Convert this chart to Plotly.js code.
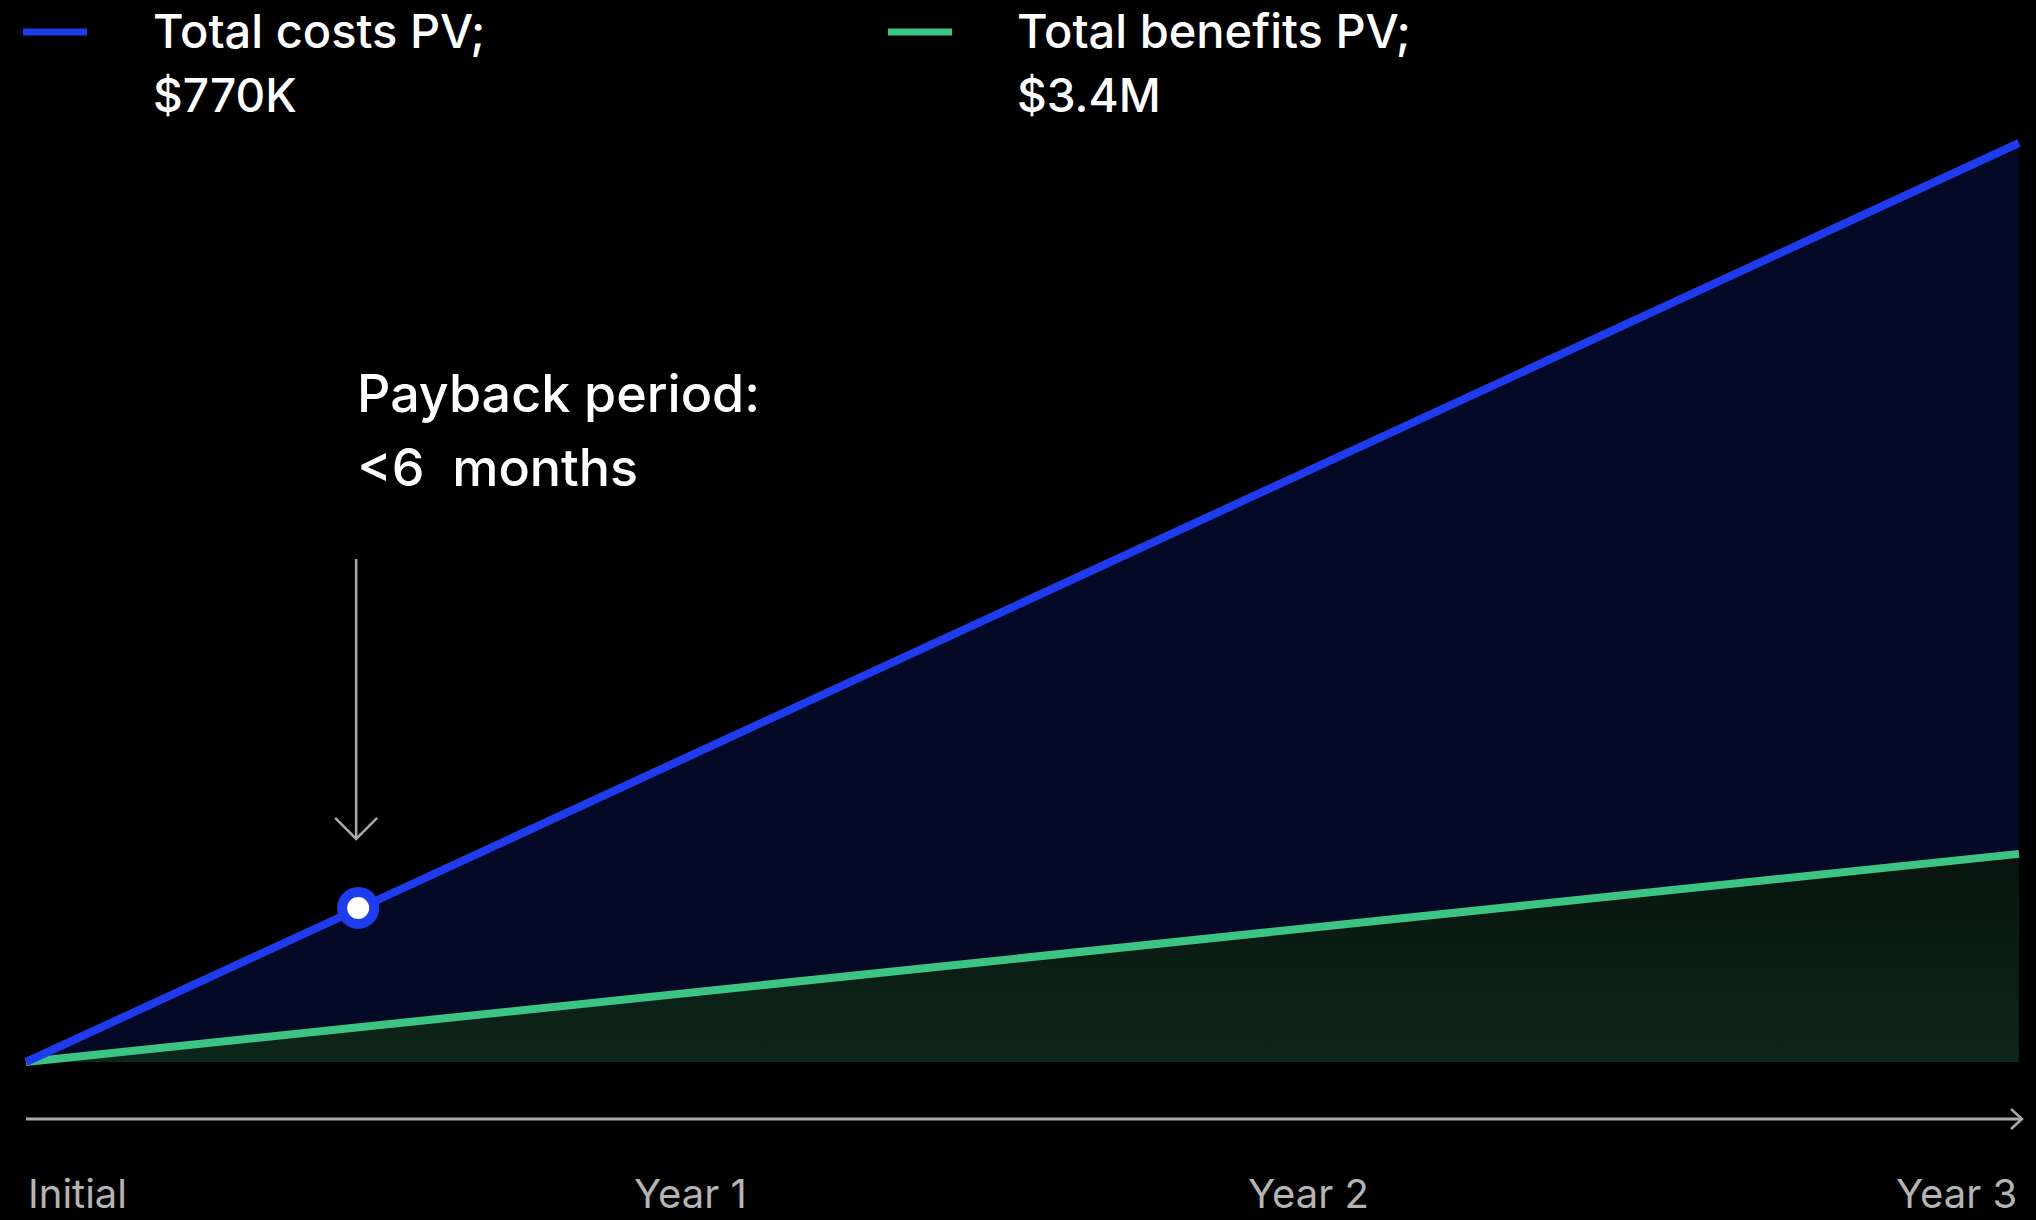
<!DOCTYPE html>
<html>
<head>
<meta charset="utf-8">
<script src="https://cdn.plot.ly/plotly-3.0.1.min.js"></script>
<style>
  html, body { margin: 0; padding: 0; background: #000; }
  #chart { width: 2036px; height: 1220px; }
</style>
</head>
<body>
<div id="chart"></div>
<script>
// ---------- data ----------
const xPoints      = [0, 3];          // Initial -> Year 3 (years)
const blueValues   = [0, 3.4];        // upper (blue) line
const greenValues  = [0, 0.77];       // lower (green) line
const legendLabels = ["Total costs PV;", "Total benefits PV;"];
const legendValues = ["$770K", "$3.4M"];
const tickLabels   = ["Initial", "Year 1", "Year 2", "Year 3"];
const tickPositions = [0, 1, 1.93, 3];
const paybackX     = [0.5];
const paybackY     = [0.57];
const paybackText  = ["Payback period:", "<6\u00a0 months"];

// ---------- styling ----------
const BLUE = "rgb(30,60,238)";
const GREEN = "rgb(60,196,132)";
const NAVY = "rgb(4,9,38)";
const GRAY = "rgb(170,170,170)";
const FONT = "Inter, 'Open Sans', sans-serif";

// pixel calibration of the canvas (layout only)
const W = 2036, H = 1220;
const X0PX = 26, XENDPX = 2019, Y0PX = 1062, YTOPPX = 143;
const xMax = xPoints[xPoints.length - 1];
const yMax = blueValues[blueValues.length - 1];
const ppx = (XENDPX - X0PX) / xMax;
const ppy = (Y0PX - YTOPPX) / yMax;
const toX = px => (px - X0PX) / ppx;
const toY = py => (Y0PX - py) / ppy;

const traces = [
  {
    x: xPoints, y: greenValues, type: "scatter", mode: "lines",
    line: { color: GREEN, width: 8 },
    fill: "tozeroy",
    fillgradient: {
      type: "vertical", start: 0, stop: greenValues[1],
      colorscale: [[0, "rgb(13,38,26)"], [1, "rgb(8,20,15)"]]
    },
    hoverinfo: "skip"
  },
  {
    x: xPoints, y: blueValues, type: "scatter", mode: "lines",
    line: { color: BLUE, width: 8 },
    fill: "tonexty", fillcolor: NAVY,
    hoverinfo: "skip"
  },
  {
    x: paybackX, y: paybackY, type: "scatter", mode: "markers",
    marker: { size: 32, color: "#ffffff", line: { color: BLUE, width: 10 } },
    cliponaxis: false, hoverinfo: "skip"
  }
];

const annotations = [];
// legend texts
const legendTextX = [151, 1015];
legendLabels.forEach((t, i) => {
  annotations.push({
    xref: "paper", yref: "paper", x: legendTextX[i] / W, y: 1 - 30 / H,
    xanchor: "left", yanchor: "middle", showarrow: false, text: t,
    font: { family: FONT, size: 47, color: "#ffffff", weight: 500 }
  });
  annotations.push({
    xref: "paper", yref: "paper", x: legendTextX[i] / W, y: 1 - 95 / H,
    xanchor: "left", yanchor: "middle", showarrow: false, text: legendValues[i],
    font: { family: FONT, size: 46, color: "#ffffff", weight: 500 }
  });
});
// payback text
const paybackLineY = [393, 467];
paybackText.forEach((t, i) => {
  annotations.push({
    xref: "x", yref: "y", x: toX(355), y: toY(paybackLineY[i]),
    xanchor: "left", yanchor: "middle", showarrow: false, text: t,
    font: { family: FONT, size: 52, color: "#ffffff", weight: 500 }
  });
});
// x labels
tickLabels.forEach((t, i) => {
  const anchor = i === 0 ? "left" : (i === tickLabels.length - 1 ? "right" : "center");
  annotations.push({
    xref: "x", yref: "y", x: tickPositions[i], y: toY(1220),
    xanchor: anchor, yanchor: "bottom", showarrow: false, text: t,
    font: { family: FONT, size: 40, color: "rgb(180,180,180)" }
  });
});

const legendBarX = [[23, 87], [888, 952]];
const legendColors = [BLUE, GREEN];
const shapes = [];
legendBarX.forEach((b, i) => {
  shapes.push({
    type: "line", xref: "paper", yref: "paper",
    x0: b[0] / W, x1: b[1] / W, y0: 1 - 32 / H, y1: 1 - 32 / H,
    line: { color: legendColors[i], width: 7 }
  });
});
// x-axis arrow
const axisY = toY(1119);
shapes.push({
  type: "line", xref: "x", yref: "y", x0: 0, x1: toX(2022), y0: axisY, y1: axisY,
  line: { color: GRAY, width: 3 }
});
shapes.push({
  type: "path", xref: "x", yref: "y", xsizemode: "pixel", ysizemode: "pixel",
  xanchor: toX(2022), yanchor: axisY,
  path: "M -11,10 L 0,0 L -11,-10",
  line: { color: GRAY, width: 2.5 }
});
// payback arrow
shapes.push({
  type: "path", xref: "x", yref: "y", xsizemode: "pixel", ysizemode: "pixel",
  xanchor: paybackX[0], yanchor: paybackY[0],
  path: "M -2,349 L -2,69 M -23,90 L -2,69 L 19,90",
  line: { color: GRAY, width: 2.5 }
});

const layout = {
  width: W, height: H,
  margin: { l: 0, r: 0, t: 0, b: 0, pad: 0 },
  paper_bgcolor: "#000000", plot_bgcolor: "#000000",
  showlegend: false,
  xaxis: { range: [toX(0), toX(W)], visible: false, fixedrange: true },
  yaxis: { range: [toY(H), toY(0)], visible: false, fixedrange: true },
  annotations: annotations,
  shapes: shapes
};

Plotly.newPlot("chart", traces, layout, { displayModeBar: false, staticPlot: true });
</script>
</body>
</html>
